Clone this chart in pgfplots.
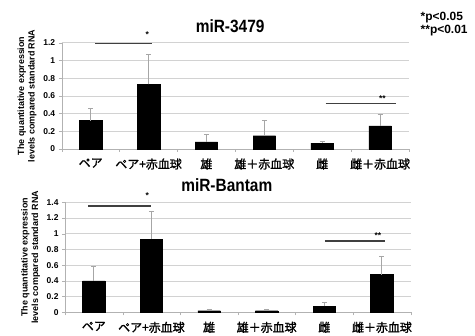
\documentclass[border=0pt]{standalone}
\usepackage{pgfplots}
\pgfplotsset{compat=1.18}
\usepackage{fontspec}
\setmainfont{Liberation Sans}
\newfontfamily\jp{Noto Sans CJK JP}[AutoFakeBold=1.5]
\pgfplotstableread{
x y e
0 0.32 0.14
1 0.73 0.34
2 0.08 0.08
3 0.15 0.17
4 0.065 0.025
5 0.26 0.13
}\topdata
\pgfplotstableread{
x y e
0 0.40 0.19
1 0.93 0.36
2 0.02 0.02
3 0.02 0.02
4 0.08 0.04
5 0.48 0.23
}\botdata
\begin{document}
\begin{tikzpicture}
\useasboundingbox (0bp,0bp) rectangle (475bp,336bp);
\pgfplotsset{
 myax/.style={
  scale only axis, xmin=-0.5, xmax=5.5, ymin=0,
  anchor=south west,
  axis x line=bottom, axis y line=left, axis line style={draw=gray!60, -},
  xtick={0,...,5}, xticklabels={ペア, ペア+赤血球, 雄, 雄＋赤血球, 雌, 雌＋赤血球},
  x tick label style={font=\jp\bfseries\fontsize{12}{13}\selectfont, yshift=-3bp},
  major x tick style={draw=none},
  minor xtick={-0.5,0.5,...,5.5},
  minor x tick style={gray!60},
  tick align=outside, minor tick length=3bp, major tick length=3bp,
  ymajorgrids, grid style={gray!35, line width=0.6pt},
  y tick style={gray!60},
  y tick label style={font=\bfseries\fontsize{8.5}{10}\selectfont, /pgf/number format/fixed},
  /pgf/number format/assume math mode=true,
  ylabel={The quantitative expression\\levels compared standard RNA},
  ylabel style={align=center, font=\bfseries\fontsize{9}{10.5}\selectfont},
  title style={font=\bfseries\fontsize{15.5}{18}\selectfont, anchor=base, yshift=4.5bp, yscale=1.15},
  clip=false,
 },
 bars/.style={ybar, bar width=0.39, fill=black, draw=black,
  error bars/.cd, y dir=plus, y explicit,
  error bar style={gray!70, line width=0.8pt},
  error mark options={rotate=90, gray!70, mark size=2.5bp, line width=0.8pt}},
 sig/.style={black!75, line width=1.2pt, no marks},
}
\begin{axis}[myax, at={(61.7bp,187bp)}, width=347.3bp, height=106.3bp, ymax=1.2,
  ytick={0,0.2,...,1.2}, title={miR-3479}, title style={at={(0.485,1)}}]
\addplot[bars] table[x=x, y=y, y error=e] {\topdata};
\addplot[sig] coordinates {(0.08,1.19) (1.06,1.19)};
\addplot[sig] coordinates {(4.06,0.515) (5.27,0.515)};
\node[font=\bfseries\fontsize{8.5}{9}\selectfont] at (axis cs:0.98,1.29) {*};
\node[font=\bfseries\fontsize{8.5}{9}\selectfont] at (axis cs:5.04,0.57) {**};
\end{axis}
\begin{axis}[myax, at={(65bp,23.7bp)}, width=345.7bp, height=110bp, ymax=1.4,
  ytick={0,0.2,...,1.4}, title={miR-Bantam}, title style={at={(0.468,1)}}]
\addplot[bars] table[x=x, y=y, y error=e] {\botdata};
\addplot[sig] coordinates {(-0.1,1.353) (1.0,1.353)};
\addplot[sig] coordinates {(4.01,0.908) (5.05,0.908)};
\node[font=\bfseries\fontsize{8.5}{9}\selectfont] at (axis cs:0.93,1.49) {*};
\node[font=\bfseries\fontsize{8.5}{9}\selectfont] at (axis cs:4.93,0.97) {**};
\end{axis}
\node[anchor=north west, align=left, font=\bfseries\fontsize{12}{14}\selectfont, inner sep=0pt] at (420.5bp,324.5bp) {*p<0.05\\**p<0.01};
\end{tikzpicture}
\end{document}
